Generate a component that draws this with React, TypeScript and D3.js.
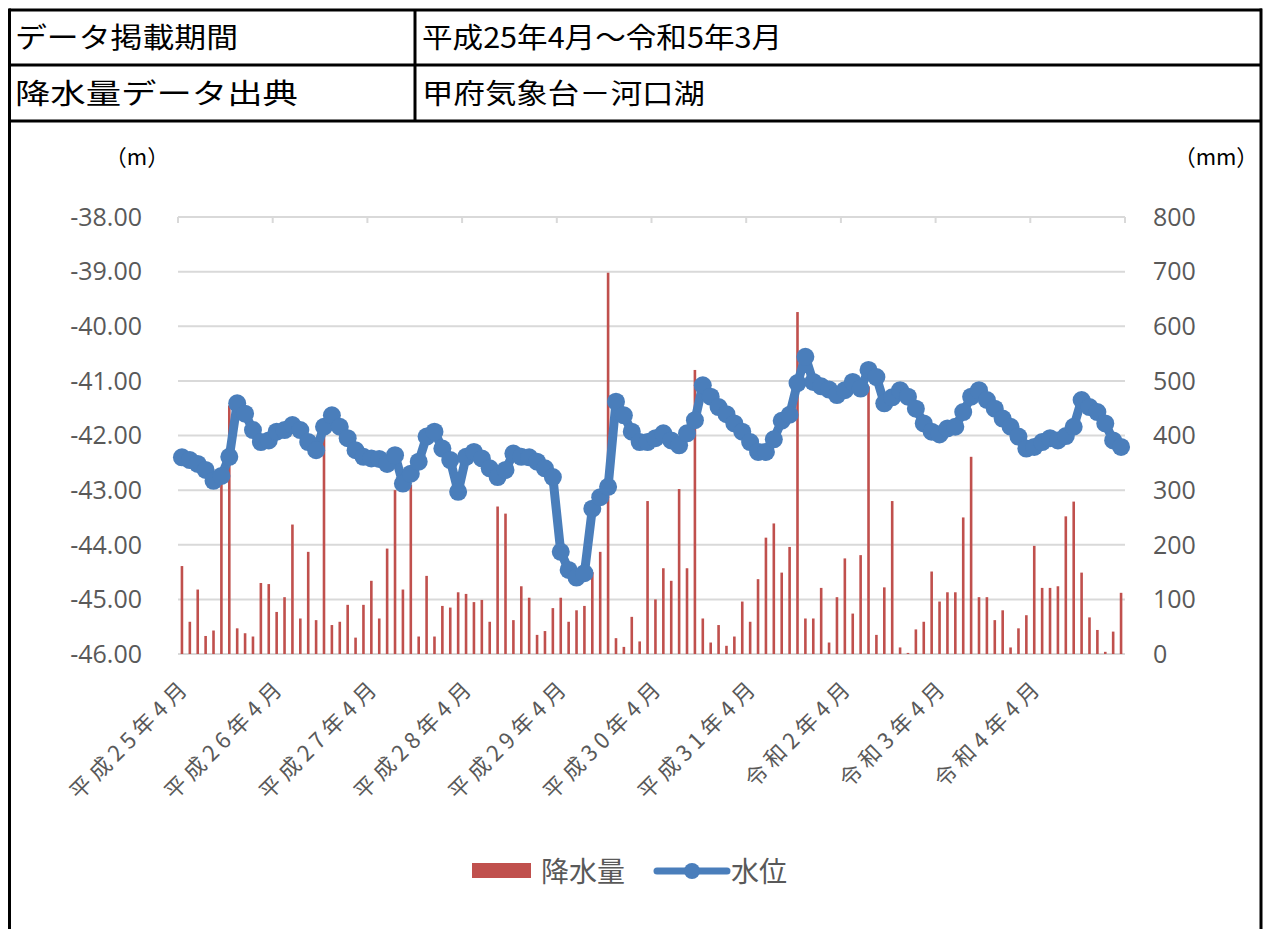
import React from 'react';
import * as d3 from 'd3';

// 平成25年4月 〜 令和5年3月 (120 months)
const yearLabels = [
  '平成25年4月', '平成26年4月', '平成27年4月', '平成28年4月', '平成29年4月',
  '平成30年4月', '平成31年4月', '令和2年4月', '令和3年4月', '令和4年4月',
];

// 降水量 (mm), monthly
const precipitation = [
  161, 59, 118, 33, 43, 330, 455, 47, 38, 32, 130, 128,
  77, 104, 237, 65, 187, 62, 400, 53, 59, 90, 30, 90,
  134, 65, 193, 300, 118, 310, 32, 143, 32, 88, 85, 113,
  110, 95, 99, 59, 270, 257, 62, 124, 103, 35, 42, 84,
  103, 59, 80, 88, 150, 187, 698, 29, 13, 68, 23, 280,
  100, 157, 134, 302, 157, 520, 65, 21, 53, 15, 32, 96,
  59, 137, 213, 239, 149, 196, 626, 65, 65, 121, 21, 104,
  175, 74, 181, 490, 35, 122, 280, 12, 2, 45, 59, 151,
  96, 113, 113, 250, 361, 104, 104, 62, 80, 12, 47, 71,
  198, 121, 121, 124, 252, 279, 149, 67, 44, 4, 41, 112,
];

// 水位 (m), monthly
const waterLevel = [
  -42.40, -42.45, -42.52, -42.63, -42.83, -42.74, -42.39, -41.41, -41.60, -41.90, -42.12, -42.09,
  -41.93, -41.90, -41.81, -41.90, -42.12, -42.27, -41.84, -41.63, -41.84, -42.05, -42.27, -42.39,
  -42.42, -42.43, -42.52, -42.36, -42.88, -42.70, -42.48, -42.02, -41.93, -42.24, -42.45, -43.03,
  -42.39, -42.30, -42.42, -42.60, -42.76, -42.63, -42.33, -42.39, -42.40, -42.48, -42.60, -42.76,
  -44.13, -44.46, -44.60, -44.52, -43.34, -43.13, -42.94, -41.38, -41.63, -41.93, -42.12, -42.12,
  -42.05, -41.96, -42.09, -42.18, -41.96, -41.72, -41.08, -41.29, -41.48, -41.61, -41.78, -41.93,
  -42.12, -42.30, -42.30, -42.07, -41.73, -41.62, -41.04, -40.56, -41.02, -41.10, -41.16, -41.26,
  -41.17, -41.02, -41.14, -40.80, -40.93, -41.41, -41.30, -41.17, -41.29, -41.51, -41.78, -41.93,
  -41.98, -41.87, -41.84, -41.57, -41.29, -41.17, -41.35, -41.51, -41.69, -41.84, -42.02, -42.24,
  -42.21, -42.12, -42.05, -42.09, -42.01, -41.84, -41.35, -41.48, -41.57, -41.78, -42.09, -42.21,
];

const leftTicks = [-38, -39, -40, -41, -42, -43, -44, -45, -46];
const rightTicks = [800, 700, 600, 500, 400, 300, 200, 100, 0];

const BAR = '#C0504D';
const LINE = '#4A7EBB';
const GRID = '#D9D9D9';
const TEXT = '#595959';
const JP = '"Noto Sans CJK JP", sans-serif';

export default function App() {
  const width = 1267;
  const height = 929;
  const left = 178, right = 1125, top = 217, bottom = 654;

  const months = d3.range(precipitation.length);
  const x = d3.scaleBand<number>().domain(months).range([left, right]);
  const cx = (i: number) => (x(i) as number) + x.bandwidth() / 2;
  const yL = d3.scaleLinear().domain([-46, -38]).range([bottom, top]);
  const yR = d3.scaleLinear().domain([0, 800]).range([bottom, top]);

  const line = d3.line<number>()
    .x((d, i) => cx(i))
    .y(d => yL(d));

  const barW = 2.6;

  return (
    <svg width={width} height={height} viewBox={`0 0 ${width} ${height}`}
      style={{ position: 'absolute', left: 0, top: 0, background: '#fff' }}>
      {/* header table */}
      <g stroke="#000" strokeWidth={3} fill="none">
        <line x1={9} x2={1262} y1={10} y2={10} />
        <line x1={9} x2={1262} y1={65} y2={65} />
        <line x1={9} x2={1262} y1={121} y2={121} />
        <line x1={9.5} x2={9.5} y1={8.5} y2={height} />
        <line x1={1261} x2={1261} y1={8.5} y2={height} />
        <line x1={415} x2={415} y1={10} y2={121} />
      </g>
      <g fontFamily={JP} fontSize={28} fill="#000">
        <text x={15} y={48} textLength={223} lengthAdjust="spacingAndGlyphs">データ掲載期間</text>
        <text x={422} y={48} textLength={360} lengthAdjust="spacingAndGlyphs">平成25年4月～令和5年3月</text>
        <text x={15} y={104} textLength={283} lengthAdjust="spacingAndGlyphs">降水量データ出典</text>
        <text x={422} y={104} textLength={283} lengthAdjust="spacingAndGlyphs">甲府気象台－河口湖</text>
      </g>

      {/* units */}
      <text x={137} y={165} fontFamily={JP} fontSize={22} textAnchor="middle" fill="#000">（m）</text>
      <text x={1216} y={165} fontFamily={JP} fontSize={22} textAnchor="middle" fill="#000">（mm）</text>

      {/* gridlines */}
      <g stroke={GRID} strokeWidth={2}>
        {leftTicks.map(t => (
          <line key={t} x1={left} x2={right} y1={yL(t)} y2={yL(t)} />
        ))}
        {yearLabels.map((_, k) => {
          const xx = x(k * 12) as number;
          return <line key={k} x1={xx} x2={xx} y1={top} y2={top + 6} />;
        })}
        <line x1={right} x2={right} y1={top} y2={top + 6} />
      </g>

      {/* left axis */}
      <g fontFamily='"Open Sans", sans-serif' fontSize={25} fill={TEXT} textAnchor="end">
        {leftTicks.map(t => (
          <text key={t} x={142} y={yL(t)} dy="0.35em">{t.toFixed(2)}</text>
        ))}
      </g>
      {/* right axis */}
      <g fontFamily='"Open Sans", sans-serif' fontSize={25} fill={TEXT} textAnchor="start">
        {rightTicks.map(t => (
          <text key={t} x={1153} y={yR(t)} dy="0.35em">{t}</text>
        ))}
      </g>

      {/* bars */}
      <g fill={BAR}>
        {precipitation.map((v, i) => (
          <rect key={i} x={cx(i) - barW / 2} width={barW} y={yR(v)} height={yR(0) - yR(v)} />
        ))}
      </g>

      {/* water level */}
      <path d={line(waterLevel) as string} fill="none" stroke={LINE} strokeWidth={9}
        strokeLinejoin="round" strokeLinecap="round" />
      <g fill={LINE}>
        {waterLevel.map((v, i) => (
          <circle key={i} cx={cx(i)} cy={yL(v)} r={9} />
        ))}
      </g>

      {/* category labels */}
      <g fontFamily={JP} fontSize={22} fill={TEXT} textAnchor="end" letterSpacing={5}>
        {yearLabels.map((lab, k) => {
          const px = cx(k * 12) + 10;
          const py = 688;
          return (
            <text key={lab} x={px} y={py} transform={`rotate(-45 ${px} ${py})`}>{lab}</text>
          );
        })}
      </g>

      {/* legend */}
      <rect x={472} y={863} width={59} height={15} fill={BAR} />
      <text x={541} y={882} fontFamily={JP} fontSize={28} fill={TEXT}>降水量</text>
      <line x1={657} x2={727} y1={871} y2={871} stroke={LINE} strokeWidth={7} strokeLinecap="round" />
      <circle cx={692} cy={871} r={8} fill={LINE} />
      <text x={731} y={882} fontFamily={JP} fontSize={28} fill={TEXT}>水位</text>
    </svg>
  );
}
